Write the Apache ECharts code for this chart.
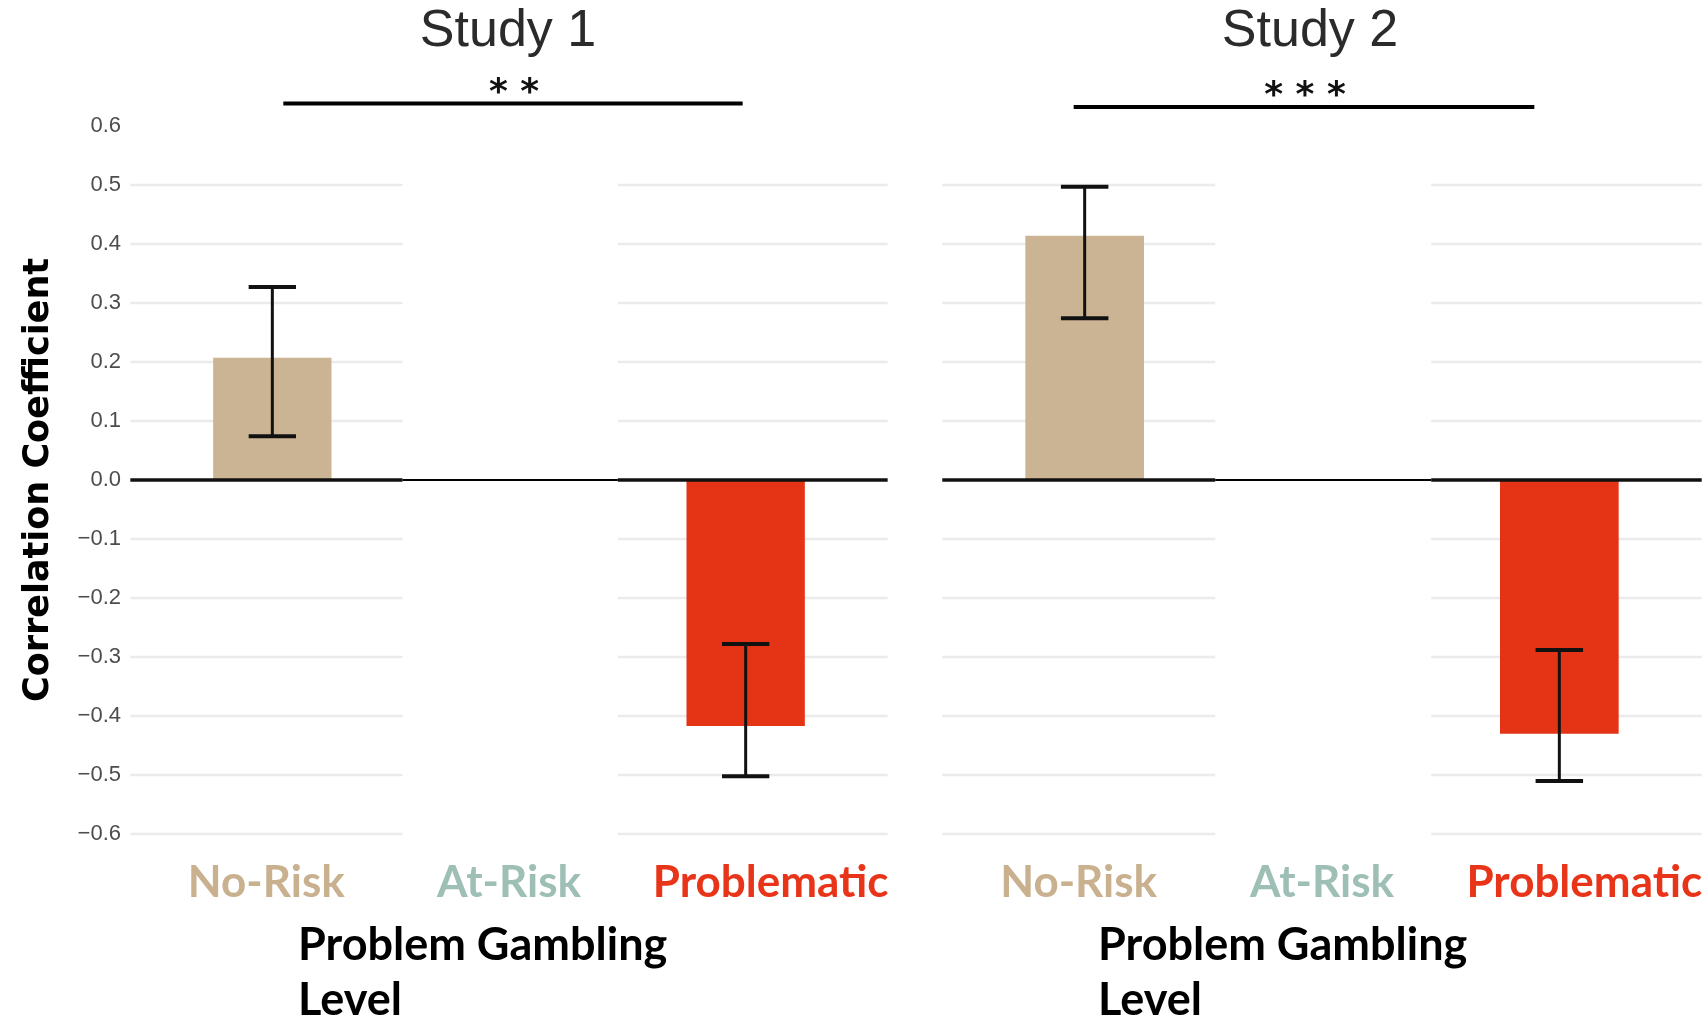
<!DOCTYPE html>
<html>
<head>
<meta charset="utf-8">
<title>Correlation by problem gambling level</title>
<script src="https://cdn.jsdelivr.net/npm/echarts@6/dist/echarts.min.js"></script>
<style>
  html, body { margin: 0; padding: 0; background: #ffffff; }
  #chart { width: 1706px; height: 1019px; }
</style>
</head>
<body>
<div id="chart"></div>
<script>
// ---- data ----
const categories = ['No-Risk', 'At-Risk', 'Problematic'];
const studyTitles = ['Study 1', 'Study 2'];

// correlation coefficient per gambling level (At-Risk group not plotted)
const study1Means = [0.207, null, -0.417];
const study1Lower = [0.074, null, -0.502];
const study1Upper = [0.327, null, -0.278];

const study2Means = [0.414, null, -0.430];
const study2Lower = [0.274, null, -0.510];
const study2Upper = [0.497, null, -0.288];

// y-axis ticks and the subset that carries a grid line
const yTicks = [-0.6, -0.5, -0.4, -0.3, -0.2, -0.1, 0.0, 0.1, 0.2, 0.3, 0.4, 0.5, 0.6];
const gridValues = [-0.6, -0.5, -0.4, -0.3, -0.2, -0.1, 0.1, 0.2, 0.3, 0.4, 0.5];

// No-Risk vs Problematic comparison
const significance = ['* *', '* * *'];
const significanceLevel = [0.638, 0.632];

// ---- styling ----
const barColors = ['#CBB493', '#9EBFB5', '#E53316'];
const labelColors = ['#C9B08E', '#9DBFB5', '#E8351A'];
const TICK_FONT = '"Liberation Sans", Arial, Helvetica, sans-serif';
const LABEL_FONT = 'Lato, "Noto Sans", sans-serif';
const PANEL_PAD = 0.6;            // panel extends 0.6 band beyond the outer categories
const GRID_GAP = [0.55, 1.46];    // band-unit span without grid lines (At-Risk column)
const BRACKET_SHIFT = [4, -18];   // horizontal nudge of each comparison bracket
const BRACKET_INSET = 7;

const grids = [
  { left: 154, top: 126, width: 710, height: 708 },
  { left: 966, top: 126, width: 712, height: 708 }
];

const studies = [
  { means: study1Means, lower: study1Lower, upper: study1Upper },
  { means: study2Means, lower: study2Lower, upper: study2Upper }
];

function panel(api, y) {
  const c0 = api.coord([0, y]);
  const bw = api.size([1, 0])[0];
  return {
    x0: c0[0] - PANEL_PAD * bw,
    g0: c0[0] + GRID_GAP[0] * bw,
    g1: c0[0] + GRID_GAP[1] * bw,
    x1: c0[0] + (2 + PANEL_PAD) * bw,
    y: c0[1],
    bw: bw
  };
}

function seg(x1, y1, x2, y2, stroke, width) {
  return { type: 'line', shape: { x1: x1, y1: y1, x2: x2, y2: y2 },
           style: { stroke: stroke, lineWidth: width } };
}

const catLabelStyle = { fontFamily: LABEL_FONT, fontWeight: 'bold', fontSize: 44 };

const xAxes = grids.map((g, gi) => ({
  type: 'category',
  gridIndex: gi,
  data: categories,
  axisLine: { show: false },
  axisTick: { show: false },
  splitLine: { show: false },
  axisLabel: {
    interval: 0,
    margin: 27,
    formatter: (v, i) => '{c' + i + '|' + v + '}',
    rich: {
      c0: Object.assign({ color: labelColors[0], padding: [0, 12, 0, 0] }, catLabelStyle),
      c1: Object.assign({ color: labelColors[1] }, catLabelStyle),
      c2: Object.assign({ color: labelColors[2], padding: [0, 0, 0, 50] }, catLabelStyle)
    }
  }
}));

const yAxes = grids.map((g, gi) => ({
  type: 'value',
  gridIndex: gi,
  min: yTicks[0],
  max: yTicks[yTicks.length - 1],
  interval: 0.1,
  axisLine: { show: false },
  axisTick: { show: false },
  splitLine: { show: false },
  name: gi === 0 ? 'Correlation Coefficient' : '',
  nameLocation: 'middle',
  nameRotate: 90,
  nameGap: 98,
  nameTextStyle: { fontFamily: '"DejaVu Sans", Verdana, sans-serif', fontWeight: 'bold', fontSize: 35, color: '#000000' },
  axisLabel: {
    show: gi === 0,
    margin: 33,
    fontFamily: TICK_FONT,
    fontSize: 22,
    color: '#4D4D4D',
    formatter: v => (v < -1e-9 ? '\u2212' : '') + Math.abs(v).toFixed(1)
  }
}));

const series = [];
studies.forEach((s, gi) => {
  // background grid lines, broken across the At-Risk column
  series.push({
    type: 'custom',
    xAxisIndex: gi, yAxisIndex: gi,
    z: 1, silent: true,
    encode: { x: 0, y: 1 },
    data: gridValues.map(v => [0, v]),
    renderItem: (params, api) => {
      const p = panel(api, api.value(1));
      return { type: 'group', children: [
        seg(p.x0, p.y, p.g0, p.y, '#EBEBEB', 2.5),
        seg(p.g1, p.y, p.x1, p.y, '#EBEBEB', 2.5)
      ] };
    }
  });
  // bars
  series.push({
    type: 'bar',
    xAxisIndex: gi, yAxisIndex: gi,
    z: 2, silent: true,
    barWidth: '50%',
    data: s.means.map((m, i) => m == null ? null : { value: m, itemStyle: { color: barColors[i] } })
  });
  // zero reference line
  series.push({
    type: 'custom',
    xAxisIndex: gi, yAxisIndex: gi,
    z: 3, silent: true,
    encode: { x: 0, y: 1 },
    data: [[0, 0]],
    renderItem: (params, api) => {
      const p = panel(api, 0);
      return { type: 'group', children: [
        seg(p.x0, p.y, p.g0, p.y, '#111111', 3.5),
        seg(p.g0, p.y, p.g1, p.y, '#000000', 2),
        seg(p.g1, p.y, p.x1, p.y, '#111111', 3.5)
      ] };
    }
  });
  // confidence interval error bars
  series.push({
    type: 'custom',
    xAxisIndex: gi, yAxisIndex: gi,
    z: 4, silent: true,
    encode: { x: 0, y: [1, 2] },
    data: s.means.map((m, i) => m == null ? null : [i, s.lower[i], s.upper[i]]).filter(d => d),
    renderItem: (params, api) => {
      const lo = api.coord([api.value(0), api.value(1)]);
      const hi = api.coord([api.value(0), api.value(2)]);
      const half = api.size([1, 0])[0] * 0.1;
      return { type: 'group', children: [
        seg(lo[0], lo[1], hi[0], hi[1], '#111111', 3),
        seg(lo[0] - half, lo[1], lo[0] + half, lo[1], '#111111', 4),
        seg(hi[0] - half, hi[1], hi[0] + half, hi[1], '#111111', 4)
      ] };
    }
  });
  // significance bracket between No-Risk and Problematic
  series.push({
    type: 'custom',
    xAxisIndex: gi, yAxisIndex: gi,
    z: 5, silent: true,
    encode: { x: 0, y: 2 },
    data: [[0, 2, significanceLevel[gi]]],
    renderItem: (params, api) => {
      const a = api.coord([api.value(0), api.value(2)]);
      const b = api.coord([api.value(1), api.value(2)]);
      const xa = a[0] + BRACKET_INSET + BRACKET_SHIFT[gi];
      const xb = b[0] - BRACKET_INSET + BRACKET_SHIFT[gi];
      return { type: 'group', children: [
        seg(xa, a[1], xb, b[1], '#000000', 4),
        { type: 'text', style: {
            text: significance[gi], x: (xa + xb) / 2 + 1, y: a[1] - 10,
            align: 'center', verticalAlign: 'middle',
            fontFamily: '"DejaVu Sans", sans-serif', fontSize: 36, fontWeight: 'bold', fill: '#111111'
        } }
      ] };
    }
  });
});

const titleX = [508, 1310];
const levelX = [298, 1098];
const graphic = [];
studyTitles.forEach((t, i) => {
  graphic.push({
    type: 'text', x: titleX[i], y: 32, silent: true,
    style: { text: t, align: 'center', verticalAlign: 'middle',
             fontFamily: TICK_FONT, fontSize: 52, fill: '#2B2B2B' }
  });
  graphic.push({
    type: 'text', x: levelX[i], y: 918, silent: true,
    style: { text: 'Problem Gambling\nLevel', align: 'left', verticalAlign: 'top',
             fontFamily: LABEL_FONT, fontWeight: 'bold', fontSize: 45, lineHeight: 55, fill: '#000000' }
  });
});

const chart = echarts.init(document.getElementById('chart'));
chart.setOption({
  animation: false,
  backgroundColor: '#ffffff',
  grid: grids,
  xAxis: xAxes,
  yAxis: yAxes,
  series: series,
  graphic: graphic
});
</script>
</body>
</html>
